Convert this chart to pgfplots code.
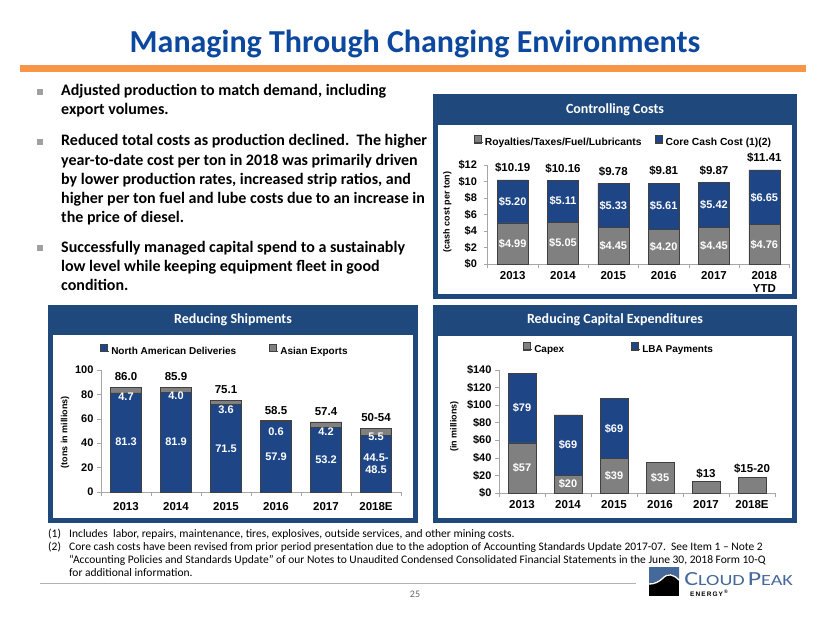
\documentclass[border=0pt]{standalone}
\usepackage{pgfplots}
\pgfplotsset{compat=1.18}
\usepackage{fontspec}
\setmainfont{Carlito}
\newfontfamily\arial{Liberation Sans}

\definecolor{titleblue}{RGB}{12,72,158}
\definecolor{orangebar}{RGB}{247,150,70}
\definecolor{panelblue}{RGB}{31,73,125}
\definecolor{barblue}{RGB}{30,70,135}
\definecolor{bargray}{RGB}{128,128,128}
\definecolor{bulletgray}{RGB}{160,160,160}
\definecolor{logoblue}{RGB}{70,105,155}

\pgfplotsset{
  cpaxis/.style={
    scale only axis, anchor=south west, clip=false,
    axis x line*=bottom, axis y line*=left,
    axis line style={black!35},
    tick style={black!35, line width=0.5pt},
    tick align=outside, major tick length=4pt,
    ybar stacked, bar width=31pt,
    xmin=-0.5, xmax=5.5, ymin=0,
    xtick={-0.5,0.5,1.5,2.5,3.5,4.5,5.5},
    x tick label as interval,
    /pgf/number format/assume math mode=true,
    ticklabel style={font=\arial\bfseries\fontsize{11}{12}\selectfont},
    xticklabel style={align=center, font=\arial\bfseries\fontsize{11.5}{13}\selectfont},
    legend style={draw=none, fill=none, legend columns=2, inner sep=0pt, anchor=center,
      font=\arial\bfseries\fontsize{10}{12}\selectfont},
    legend image code/.code={\draw[#1] (0pt,-0.3pt) rectangle (7pt,6.9pt); \path (0pt,0pt) -- (8.5pt,0pt);},
  },
  gbar/.style={fill=bargray, draw=black!75, line width=0.6pt},
  bbar/.style={fill=barblue, draw=black!75, line width=0.6pt},
}
\tikzset{
  lbl/.style={font=\arial\bfseries\fontsize{11}{12}\selectfont, text=white},
  tot/.style={font=\arial\bfseries\fontsize{11.5}{12}\selectfont},
  ylab/.style={font=\arial\bfseries\fontsize{9}{10}\selectfont, rotate=90, anchor=center},
  bl/.style={anchor=base west, inner sep=0pt, font=\bfseries\fontsize{16}{19}\selectfont},
  fn/.style={anchor=base west, inner sep=0pt, font=\fontsize{11.5}{13}\selectfont},
}

\begin{document}
\begin{tikzpicture}
\path[use as bounding box] (0pt,0pt) rectangle (830pt,-623pt);

\begin{scope}[x=1pt,y=-1pt]
% title
\node[anchor=base, font=\bfseries\fontsize{32}{36}\selectfont, text=titleblue] at (415,53) {Managing Through Changing Environments};
\fill[orangebar] (20,65) rectangle (806,72);

% bullets
\foreach \yy in {92,142,248} \fill[bulletgray] (37,\yy-3) rectangle (43,\yy+3);
\node[bl] at (61,96) {Adjusted production to match demand, including};
\node[bl] at (61,115) {export volumes.};
\node[bl] at (61,146) {Reduced total costs as production declined.\ \ The higher};
\node[bl] at (61,165) {year-to-date cost per ton in 2018 was primarily driven};
\node[bl] at (61,184) {by lower production rates, increased strip ratios, and};
\node[bl] at (61,203) {higher per ton fuel and lube costs due to an increase in};
\node[bl] at (61,222) {the price of diesel.};
\node[bl] at (61,252) {Successfully managed capital spend to a sustainably};
\node[bl] at (61,271) {low level while keeping equipment fleet in good};
\node[bl] at (61,290) {condition.};

% panels
\fill[panelblue] (433,94) rectangle (797,299);
\fill[white] (438,125) rectangle (792,294);
\node[text=white, font=\bfseries\fontsize{14}{16}\selectfont] at (615,110) {Controlling Costs};
\fill[panelblue] (48,305) rectangle (418,523);
\fill[white] (53,335) rectangle (413,518);
\node[text=white, font=\bfseries\fontsize{14}{16}\selectfont] at (233,320) {Reducing Shipments};
\fill[panelblue] (433,305) rectangle (797,523);
\fill[white] (438,336) rectangle (792,518);
\node[text=white, font=\bfseries\fontsize{14}{16}\selectfont] at (615,320) {Reducing Capital Expenditures};

% footnotes
\node[fn] at (48,537) {(1)};
\node[fn] at (69,537) {Includes\ \ labor, repairs, maintenance, tires, explosives, outside services, and other mining costs.};
\node[fn] at (48,550) {(2)};
\node[fn] at (69,550) {Core cash costs have been revised from prior period presentation due to the adoption of Accounting Standards Update 2017-07.\ \ See Item 1 -- Note 2};
\node[fn] at (69,563) {``Accounting Policies and Standards Update'' of our Notes to Unaudited Condensed Consolidated Financial Statements in the June 30, 2018 Form 10-Q};
\node[fn] at (69,576) {for additional information.};
\draw[black!30, line width=0.6pt] (40,583) -- (636,583);
\node[anchor=base, text=black!60, font=\fontsize{10}{12}\selectfont] at (415,597) {25};

% logo
\fill[black] (649,567) rectangle (679,596);
\fill[logoblue] (649,567) -- (679,567) -- (679,579) .. controls (673,573) and (668,572) .. (663,577) .. controls (659,581) and (654,583) .. (649,583) -- cycle;
\draw[white, line width=1.4pt] (679,580) .. controls (673,574) and (668,573) .. (663,578) .. controls (659,582) and (654,584) .. (649,584);
\node[anchor=base west, inner sep=0pt, text=logoblue, xscale=1.3] at (684,585)
  {{\fontsize{20}{20}\selectfont C}{\fontsize{15.5}{16}\selectfont LOUD} {\fontsize{20}{20}\selectfont P}{\fontsize{15.5}{16}\selectfont EAK}};
\node[anchor=base west, inner sep=0pt, font=\arial\bfseries\fontsize{6.5}{7}\selectfont] at (690,596) {E\,N\,E\,R\,G\,Y\,\textsuperscript{\tiny ®}};
\end{scope}

% ---------------- Controlling Costs
\begin{axis}[cpaxis, at={(487.5pt,-264pt)}, width=302pt, height=99pt,
  ymax=12, ytick={0,2,...,12}, yticklabel={\$\pgfmathprintnumber{\tick}},
  yticklabel style={xshift=-3pt},
  xticklabels={2013,2014,2015,2016,2017,{2018\\YTD}},
  ylabel={(cash cost per ton)},
  every axis y label/.style={at={(axis description cs:-0.133,0.525)}, ylab},
  legend style={at={(0.45,1.23)}, font=\arial\bfseries\fontsize{10.3}{12}\selectfont,
    /tikz/every even column/.append style={column sep=11pt}},
  after end axis/.code={
    \node[tot, yshift=12pt] at (axis cs:0,10.19) {\$10.19};
    \node[tot, yshift=12pt] at (axis cs:1,10.16) {\$10.16};
    \node[tot, yshift=12pt] at (axis cs:2,9.78) {\$9.78};
    \node[tot, yshift=12pt] at (axis cs:3,9.81) {\$9.81};
    \node[tot, yshift=12pt] at (axis cs:4,9.87) {\$9.87};
    \node[tot, yshift=12pt] at (axis cs:5,11.41) {\$11.41};
    \node[lbl] at (axis cs:0,2.50) {\$4.99};
    \node[lbl] at (axis cs:1,2.52) {\$5.05};
    \node[lbl] at (axis cs:2,2.22) {\$4.45};
    \node[lbl] at (axis cs:3,2.10) {\$4.20};
    \node[lbl] at (axis cs:4,2.22) {\$4.45};
    \node[lbl] at (axis cs:5,2.38) {\$4.76};
    \node[lbl] at (axis cs:0,7.59) {\$5.20};
    \node[lbl] at (axis cs:1,7.60) {\$5.11};
    \node[lbl] at (axis cs:2,7.11) {\$5.33};
    \node[lbl] at (axis cs:3,7.00) {\$5.61};
    \node[lbl] at (axis cs:4,7.16) {\$5.42};
    \node[lbl] at (axis cs:5,8.08) {\$6.65};
  },
]
\addplot[gbar] coordinates {(0,4.99)(1,5.05)(2,4.45)(3,4.20)(4,4.45)(5,4.76)};
\addplot[bbar] coordinates {(0,5.20)(1,5.11)(2,5.33)(3,5.61)(4,5.42)(5,6.65)};
\legend{Royalties/Taxes/Fuel/Lubricants, Core Cash Cost (1)(2)}
\end{axis}

% ---------------- Reducing Shipments
\begin{axis}[cpaxis, at={(101pt,-492pt)}, width=300pt, height=122pt,
  ymax=100, ytick={0,20,...,100},
  xticklabels={2013,2014,2015,2016,2017,2018E},
  xticklabel style={yshift=-3pt},
  ylabel={(tons in millions)},
  every axis y label/.style={at={(axis description cs:-0.12,0.49)}, ylab},
  legend style={at={(0.413,1.156)}, /tikz/every even column/.append style={column sep=31pt}},
  after end axis/.code={
    \node[tot, yshift=11pt] at (axis cs:0,86.0) {86.0};
    \node[tot, yshift=11pt] at (axis cs:1,85.9) {85.9};
    \node[tot, yshift=11pt] at (axis cs:2,75.1) {75.1};
    \node[tot, yshift=10pt] at (axis cs:3,58.5) {58.5};
    \node[tot, yshift=10pt] at (axis cs:4,57.4) {57.4};
    \node[tot, yshift=11pt] at (axis cs:5,52.0) {50-54};
    \node[lbl] at (axis cs:0,77.9) {4.7};
    \node[lbl] at (axis cs:1,79.0) {4.0};
    \node[lbl] at (axis cs:2,67.2) {3.6};
    \node[lbl] at (axis cs:3,49.8) {0.6};
    \node[lbl] at (axis cs:4,49.8) {4.2};
    \node[lbl] at (axis cs:5,45.1) {5.5};
    \node[lbl] at (axis cs:0,41.0) {81.3};
    \node[lbl] at (axis cs:1,41.0) {81.9};
    \node[lbl] at (axis cs:2,35.2) {71.5};
    \node[lbl] at (axis cs:3,28.7) {57.9};
    \node[lbl] at (axis cs:4,26.2) {53.2};
    \node[lbl, align=center] at (axis cs:5,23.0) {44.5-\\48.5};
  },
]
\addplot[bbar] coordinates {(0,81.3)(1,81.9)(2,71.5)(3,57.9)(4,53.2)(5,46.5)};
\addplot[gbar] coordinates {(0,4.7)(1,4.0)(2,3.6)(3,0.6)(4,4.2)(5,5.5)};
\legend{North American Deliveries, Asian Exports}
\end{axis}

% ---------------- Reducing Capital Expenditures
\begin{axis}[cpaxis, at={(499pt,-493pt)}, width=276pt, height=123pt, bar width=28pt,
  ymax=140, ytick={0,20,...,140}, yticklabel={\$\pgfmathprintnumber{\tick}},
  xticklabels={2013,2014,2015,2016,2017,2018E},
  ylabel={(in millions)},
  every axis y label/.style={at={(axis description cs:-0.162,0.54)}, ylab},
  legend style={at={(0.435,1.17)}, /tikz/every even column/.append style={column sep=65pt}},
  after end axis/.code={
    \node[lbl] at (axis cs:0,96.5) {\$79};
    \node[lbl] at (axis cs:0,28.5) {\$57};
    \node[lbl] at (axis cs:1,54.5) {\$69};
    \node[lbl] at (axis cs:1,10.0) {\$20};
    \node[lbl] at (axis cs:2,73.5) {\$69};
    \node[lbl] at (axis cs:2,19.5) {\$39};
    \node[lbl] at (axis cs:3,17.0) {\$35};
    \node[tot, yshift=8pt] at (axis cs:4,13) {\$13};
    \node[tot, yshift=9pt] at (axis cs:5,17.5) {\$15-20};
  },
]
\addplot[gbar] coordinates {(0,57)(1,20)(2,39)(3,35)(4,13)(5,17.5)};
\addplot[bbar] coordinates {(0,79)(1,69)(2,69)};
\legend{Capex, LBA Payments}
\end{axis}
\end{tikzpicture}
\end{document}
